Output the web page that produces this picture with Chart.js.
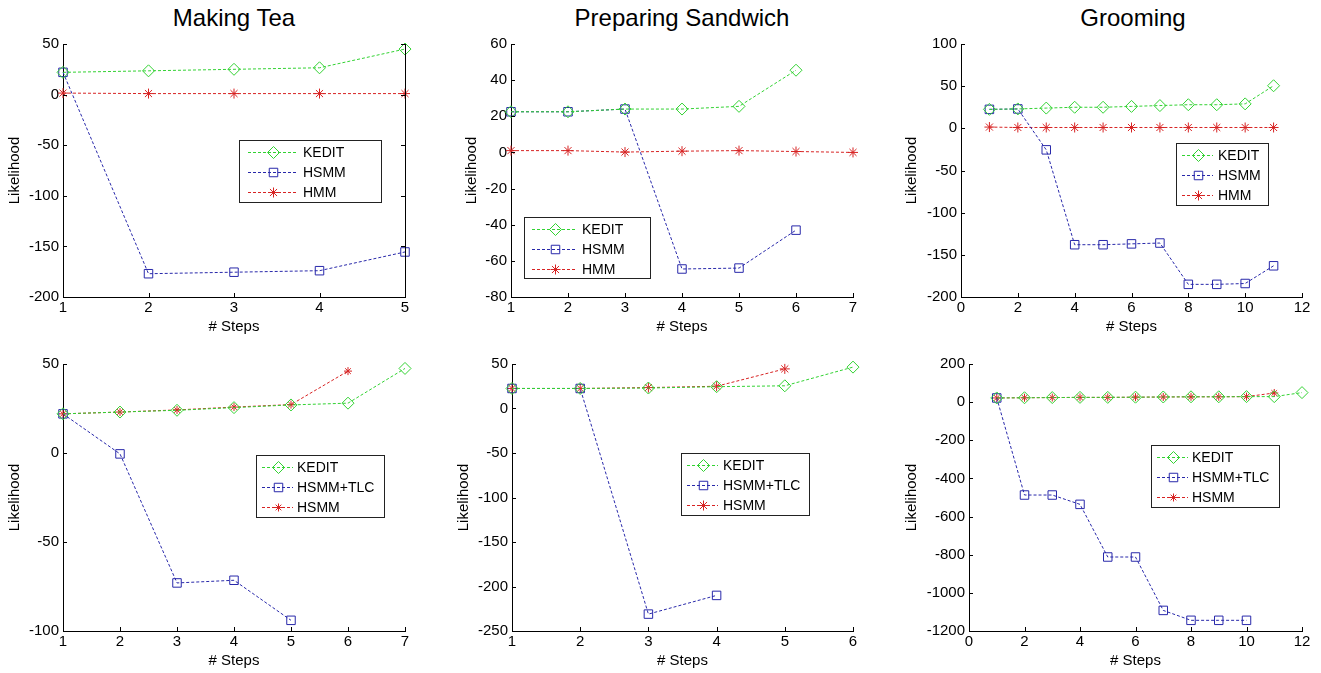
<!DOCTYPE html>
<html>
<head>
<meta charset="utf-8">
<script src="https://cdn.jsdelivr.net/npm/chart.js@4/dist/chart.umd.min.js"></script>
<style>
body { margin: 0; background: #fff; width: 1321px; height: 673px; position: relative; overflow: hidden; font-family: Arial, "Liberation Sans", sans-serif; }
canvas { position: absolute; }
.titulo { position: absolute; font-size: 24px; line-height: 24px; color: #000; transform: translateX(-50%); white-space: nowrap; }
</style>
</head>
<body>
<div class="titulo" style="left:234px;top:6px">Making Tea</div>
<div class="titulo" style="left:682px;top:6px">Preparing Sandwich</div>
<div class="titulo" style="left:1133px;top:6px">Grooming</div>
<script>
// Nombres de las series
const seriesArriba = ['KEDIT', 'HSMM', 'HMM'];
const seriesAbajo = ['KEDIT', 'HSMM+TLC', 'HSMM'];

// Making Tea (arriba)
const pasosTe = [1, 2, 3, 4, 5];
const teKedit = [22, 23.5, 25, 26.5, 45];
const teHsmm = [22, -177, -175.5, -174, -155.5];
const teHmm = [1.5, 1, 1, 1, 1];

// Preparing Sandwich (arriba)
const pasosSandwich = [1, 2, 3, 4, 5, 6];
const pasosSandwichHmm = [1, 2, 3, 4, 5, 6, 7];
const sandwichKedit = [22.5, 22.5, 24, 24, 25.5, 45.5];
const sandwichHsmm = [22.5, 22.5, 24, -64.5, -64, -43];
const sandwichHmm = [1, 1, 0.2, 0.7, 1, 0.5, 0];

// Grooming (arriba)
const pasosAseo = [1, 2, 3, 4, 5, 6, 7, 8, 9, 10, 11];
const aseoKedit = [22.5, 23, 24, 25, 25, 26, 27, 28, 28, 29, 50.5];
const aseoHsmm = [22.5, 23, -25.5, -138, -138, -137, -136, -185, -185, -184, -163];
const aseoHmm = [1.5, 1, 1, 1, 1, 1, 1, 1, 1, 1, 1];

// Making Tea (abajo)
const pasosTe2Kedit = [1, 2, 3, 4, 5, 6, 7];
const pasosTe2Tlc = [1, 2, 3, 4, 5];
const pasosTe2Hsmm = [1, 2, 3, 4, 5, 6];
const te2Kedit = [22, 23, 24, 25.5, 27, 28, 47.5];
const te2Tlc = [22, -0.5, -73, -71.5, -94];
const te2Hsmm = [22, 23, 24.2, 25.8, 27.2, 46];

// Preparing Sandwich (abajo)
const pasosSandwich2Kedit = [1, 2, 3, 4, 5, 6];
const pasosSandwich2Tlc = [1, 2, 3, 4];
const pasosSandwich2Hsmm = [1, 2, 3, 4, 5];
const sandwich2Kedit = [22.5, 22.5, 23, 24.5, 25.5, 46.5];
const sandwich2Tlc = [22.5, 22.5, -231, -210];
const sandwich2Hsmm = [22.5, 22.5, 23.5, 25, 44.5];

// Grooming (abajo)
const pasosAseo2Kedit = [1, 2, 3, 4, 5, 6, 7, 8, 9, 10, 11, 12];
const pasosAseo2Tlc = [1, 2, 3, 4, 5, 6, 7, 8, 9, 10];
const pasosAseo2Hsmm = [1, 2, 3, 4, 5, 6, 7, 8, 9, 10, 11];
const aseo2Kedit = [22, 23, 24, 25, 25, 26, 27, 28, 28, 29, 29, 50];
const aseo2Tlc = [22, -487, -487, -536, -812, -812, -1092, -1144, -1144, -1144];
const aseo2Hsmm = [22, 23, 24, 25, 25, 26, 27, 28, 28, 29, 48];

// Marcas de los ejes
const ticksX5 = [1, 2, 3, 4, 5];
const ticksX6 = [1, 2, 3, 4, 5, 6];
const ticksX7 = [1, 2, 3, 4, 5, 6, 7];
const ticksX12 = [0, 2, 4, 6, 8, 10, 12];
const ticksYTe = [-200, -150, -100, -50, 0, 50];
const ticksYSandwich = [-80, -60, -40, -20, 0, 20, 40, 60];
const ticksYAseo = [-200, -150, -100, -50, 0, 50, 100];
const ticksYTe2 = [-100, -50, 0, 50];
const ticksYSandwich2 = [-250, -200, -150, -100, -50, 0, 50];
const ticksYAseo2 = [-1200, -1000, -800, -600, -400, -200, 0, 200];

const VERDE = 'rgb(50,210,50)';
const AZUL = 'rgb(40,40,170)';
const ROJO = 'rgb(215,35,35)';

const puntos = (xs, ys) => xs.map((x, i) => ({x: x, y: ys[i]}));

const serie = (label, xs, ys, color, forma, radio) => ({
    label: label,
    data: puntos(xs, ys),
    borderColor: color,
    borderWidth: 1,
    borderDash: [3, 2],
    pointStyle: forma,
    pointRadius: radio,
    pointBorderWidth: 1,
    pointBorderColor: color,
    pointBackgroundColor: 'rgba(0,0,0,0)',
    fill: false,
    tension: 0,
    clip: false
});

// Dibuja una marca en la leyenda
const dibujarMarca = (ctx, forma, x, y, r, color) => {
    ctx.save();
    ctx.strokeStyle = color;
    ctx.lineWidth = 1;
    ctx.beginPath();
    if (forma === 'rectRot') {
        ctx.moveTo(x - r, y); ctx.lineTo(x, y - r); ctx.lineTo(x + r, y); ctx.lineTo(x, y + r); ctx.closePath();
    } else if (forma === 'rect') {
        const s = r * Math.SQRT1_2;
        ctx.rect(x - s, y - s, 2 * s, 2 * s);
    } else {
        const d = r * Math.SQRT1_2;
        ctx.moveTo(x - r, y); ctx.lineTo(x + r, y);
        ctx.moveTo(x, y - r); ctx.lineTo(x, y + r);
        ctx.moveTo(x - d, y - d); ctx.lineTo(x + d, y + d);
        ctx.moveTo(x - d, y + d); ctx.lineTo(x + d, y - d);
    }
    ctx.stroke();
    ctx.restore();
};

// Leyenda estilo MATLAB dentro del area
const leyenda = {
    id: 'leyenda',
    afterDraw(chart, args, o) {
        const {ctx, chartArea: a} = chart;
        const bx = Math.round(a.left + o.x), by = Math.round(a.top + o.y);
        ctx.save();
        ctx.fillStyle = '#fff';
        ctx.fillRect(bx, by, o.w, o.h);
        ctx.strokeStyle = '#222';
        ctx.lineWidth = 1;
        ctx.strokeRect(bx + 0.5, by + 0.5, o.w, o.h);
        chart.data.datasets.forEach((ds, i) => {
            const cy = by + 12 + i * 20 + 0.5;
            ctx.setLineDash([3, 2]);
            ctx.strokeStyle = ds.borderColor;
            ctx.beginPath();
            ctx.moveTo(bx + o.linea[0], cy);
            ctx.lineTo(bx + o.linea[1], cy);
            ctx.stroke();
            ctx.setLineDash([]);
            dibujarMarca(ctx, ds.pointStyle, Math.round(bx + (o.linea[0] + o.linea[1]) / 2) + 0.5, cy, ds.pointRadius, ds.borderColor);
            ctx.fillStyle = '#000';
            ctx.font = '14px Arial, "Liberation Sans"';
            ctx.textBaseline = 'middle';
            ctx.fillText(ds.label, bx + o.texto, cy + 1);
        });
        ctx.restore();
    }
};

// Marcas hacia adentro (como MATLAB)
const ejesInternos = {
    id: 'ejesInternos',
    afterDraw(chart, args, o) {
        const {ctx, chartArea: a, scales: {x, y}} = chart;
        ctx.save();
        ctx.strokeStyle = '#000';
        ctx.lineWidth = 1;
        ctx.beginPath();
        x.ticks.forEach(t => {
            const px = Math.round(x.getPixelForValue(t.value)) + 0.5;
            ctx.moveTo(px, a.bottom); ctx.lineTo(px, a.bottom - 4);
        });
        y.ticks.forEach(t => {
            const py = Math.round(y.getPixelForValue(t.value)) + 0.5;
            ctx.moveTo(a.left, py); ctx.lineTo(a.left + 4, py);
            if (o.derecha) { ctx.moveTo(a.right, py); ctx.lineTo(a.right - 4, py); }
        });
        if (o.derecha) { ctx.moveTo(Math.round(a.right) + 0.5, a.top); ctx.lineTo(Math.round(a.right) + 0.5, a.bottom); }
        ctx.stroke();
        ctx.restore();
    }
};

const paneles = [
    {L: 63, R: 405, T: 43, B: 297, gap: 48, xMin: 1, xMax: 5, ticksX: ticksX5, ticksY: ticksYTe, derecha: true,
     leyenda: {x: 176, y: 96, w: 142, h: 62, linea: [9, 58], texto: 64},
     series: [serie(seriesArriba[0], pasosTe, teKedit, VERDE, 'rectRot', 6),
              serie(seriesArriba[1], pasosTe, teHsmm, AZUL, 'rect', 6),
              serie(seriesArriba[2], pasosTe, teHmm, ROJO, 'star', 5)]},
    {L: 511, R: 853, T: 43, B: 297, gap: 39, xMin: 1, xMax: 7, ticksX: ticksX7, ticksY: ticksYSandwich,
     leyenda: {x: 13, y: 173, w: 126, h: 61, linea: [8, 53], texto: 58},
     series: [serie(seriesArriba[0], pasosSandwich, sandwichKedit, VERDE, 'rectRot', 6),
              serie(seriesArriba[1], pasosSandwich, sandwichHsmm, AZUL, 'rect', 6),
              serie(seriesArriba[2], pasosSandwichHmm, sandwichHmm, ROJO, 'star', 5)]},
    {L: 961, R: 1302, T: 43, B: 297, gap: 49, xMin: 0, xMax: 12, ticksX: ticksX12, ticksY: ticksYAseo,
     leyenda: {x: 215, y: 99, w: 92, h: 62, linea: [6, 37], texto: 42},
     series: [serie(seriesArriba[0], pasosAseo, aseoKedit, VERDE, 'rectRot', 6),
              serie(seriesArriba[1], pasosAseo, aseoHsmm, AZUL, 'rect', 6),
              serie(seriesArriba[2], pasosAseo, aseoHmm, ROJO, 'star', 5)]},
    {L: 63, R: 405, T: 363, B: 631, gap: 48, xMin: 1, xMax: 7, ticksX: ticksX7, ticksY: ticksYTe2,
     leyenda: {x: 193, y: 91, w: 128, h: 62, linea: [6, 37], texto: 41},
     series: [serie(seriesAbajo[0], pasosTe2Kedit, te2Kedit, VERDE, 'rectRot', 6),
              serie(seriesAbajo[1], pasosTe2Tlc, te2Tlc, AZUL, 'rect', 6),
              serie(seriesAbajo[2], pasosTe2Hsmm, te2Hsmm, ROJO, 'star', 4)]},
    {L: 512, R: 853, T: 363, B: 631, gap: 48, xMin: 1, xMax: 6, ticksX: ticksX6, ticksY: ticksYSandwich2,
     leyenda: {x: 169, y: 89, w: 128, h: 62, linea: [6, 37], texto: 42},
     series: [serie(seriesAbajo[0], pasosSandwich2Kedit, sandwich2Kedit, VERDE, 'rectRot', 6),
              serie(seriesAbajo[1], pasosSandwich2Tlc, sandwich2Tlc, AZUL, 'rect', 6),
              serie(seriesAbajo[2], pasosSandwich2Hsmm, sandwich2Hsmm, ROJO, 'star', 5)]},
    {L: 969, R: 1302, T: 363, B: 631, gap: 57, xMin: 0, xMax: 12, ticksX: ticksX12, ticksY: ticksYAseo2,
     leyenda: {x: 182, y: 81, w: 128, h: 62, linea: [6, 37], texto: 41},
     series: [serie(seriesAbajo[0], pasosAseo2Kedit, aseo2Kedit, VERDE, 'rectRot', 6),
              serie(seriesAbajo[1], pasosAseo2Tlc, aseo2Tlc, AZUL, 'rect', 6),
              serie(seriesAbajo[2], pasosAseo2Hsmm, aseo2Hsmm, ROJO, 'star', 4)]}
];

const fuente = {family: 'Arial, "Liberation Sans", sans-serif', size: 15};
const ALTO_X = 39;
const ARRIBA = 12;
const DERECHA = 20;

paneles.forEach((p) => {
    const anchoY = p.gap + 9;
    const canvas = document.createElement('canvas');
    canvas.width = anchoY + (p.R - p.L) + DERECHA;
    canvas.height = ARRIBA + (p.B - p.T) + ALTO_X;
    canvas.style.left = (p.L - anchoY) + 'px';
    canvas.style.top = (p.T - ARRIBA) + 'px';
    document.body.appendChild(canvas);

    new Chart(canvas, {
        type: 'line',
        data: {datasets: p.series},
        plugins: [ejesInternos, leyenda],
        options: {
            responsive: false,
            animation: false,
            devicePixelRatio: 1,
            layout: {padding: {top: ARRIBA, right: DERECHA, left: 0, bottom: 0}},
            plugins: {
                legend: {display: false},
                tooltip: {enabled: false},
                leyenda: p.leyenda,
                ejesInternos: {derecha: !!p.derecha}
            },
            scales: {
                x: {
                    type: 'linear', min: p.xMin, max: p.xMax,
                    afterBuildTicks: (s) => { s.ticks = p.ticksX.map(v => ({value: v})); },
                    afterFit: (s) => { s.height = ALTO_X; },
                    grid: {display: false, drawTicks: false, tickLength: 0},
                    border: {display: true, color: '#000', width: 1},
                    ticks: {color: '#000', font: fuente, padding: 2, maxRotation: 0, autoSkip: false, callback: (v) => String(v)},
                    title: {display: true, text: '# Steps', color: '#000', font: fuente, padding: 0}
                },
                y: {
                    type: 'linear', min: p.ticksY[0], max: p.ticksY[p.ticksY.length - 1],
                    afterBuildTicks: (s) => { s.ticks = p.ticksY.map(v => ({value: v})); },
                    afterFit: (s) => { s.width = anchoY; },
                    grid: {display: false, drawTicks: false, tickLength: 0},
                    border: {display: true, color: '#000', width: 1},
                    ticks: {color: '#000', font: fuente, padding: 4, autoSkip: false, callback: (v) => String(v)},
                    title: {display: true, text: 'Likelihood', color: '#000', font: fuente, padding: 0}
                }
            }
        }
    });
});
</script>
</body>
</html>
